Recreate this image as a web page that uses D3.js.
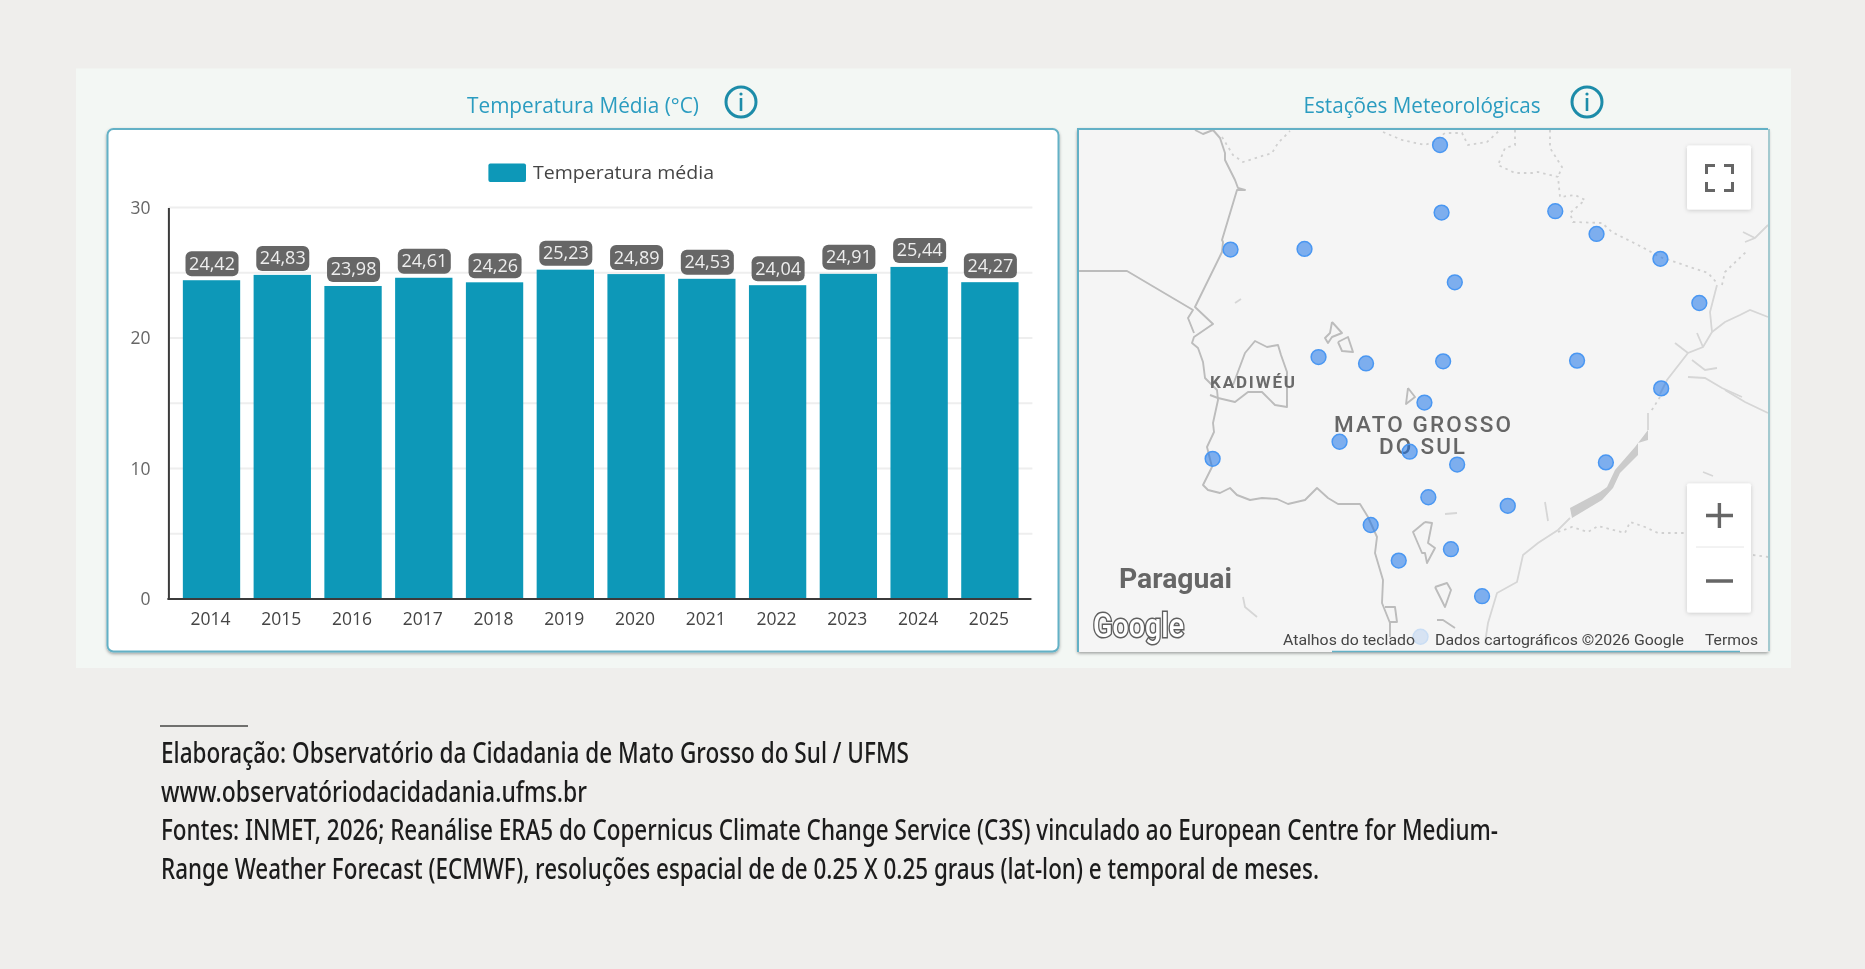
<!DOCTYPE html>
<html lang="pt-BR"><head><meta charset="utf-8">
<script src="https://cdn.jsdelivr.net/npm/d3@7"></script>
<style>html,body{margin:0;padding:0;background:#efeeec;overflow:hidden}svg{display:block}</style>
</head><body><svg id="c" width="1865" height="969"></svg>
<script>
// ---- data ----
const years = ["2014","2015","2016","2017","2018","2019","2020","2021","2022","2023","2024","2025"];
const temperatura = [24.42,24.83,23.98,24.61,24.26,25.23,24.89,24.53,24.04,24.91,25.44,24.27];
const yTicks = [0,10,20,30];
const yGrid = [0,5,10,15,20,25,30];
const legendLabel = "Temperatura média";
const stationLon = [-54.52,-54.50,-53.04,-52.51,-51.69,-51.19,-57.21,-56.26,-54.33,-56.08,-55.47,-54.48,-52.76,-51.68,-54.72,-55.81,-54.91,-54.30,-57.44,-52.39,-54.67,-53.65,-55.41,-54.38,-55.05,-53.98,-54.77];
const stationLat = [-17.19,-18.14,-18.12,-18.44,-18.79,-19.41,-18.66,-18.65,-19.12,-20.17,-20.26,-20.23,-20.22,-20.61,-20.81,-21.36,-21.50,-21.68,-21.60,-21.65,-22.14,-22.26,-22.53,-22.87,-23.03,-23.53,-24.10];
const footnotes = [
 "Elaboração: Observatório da Cidadania de Mato Grosso do Sul / UFMS",
 "www.observatóriodacidadania.ufms.br",
 "Fontes: INMET, 2026; Reanálise ERA5 do Copernicus Climate Change Service (C3S) vinculado ao European Centre for Medium-",
 "Range Weather Forecast (ECMWF), resoluções espacial de de 0.25 X 0.25 graus (lat-lon) e temporal de meses."];
// basemap outlines (traced, in map-card units)
const solidLines = [
 [[118,2],[126,6],[136,2],[143,10],[148,25],[148,32],[158,52],[161,60],[168,62],[160,62],[145,112],[146,114],[145,124],[118,179],[136,196],[117,209],[115,215],[121,220],[126,234],[128,250],[140,262],[141,272],[136,295],[137,304],[130,319],[135,339],[126,357],[131,362],[143,365],[153,360],[160,367],[173,372],[185,370],[200,371],[211,376],[228,372],[240,360],[251,370],[261,376],[283,376],[291,389],[300,409],[298,425],[306,452],[305,475],[313,495],[313,509]],
 [[1,143],[50,143],[116,182],[111,190],[117,205]],
 [[156,257],[168,225],[178,213],[190,219],[201,217],[204,227],[210,244],[210,279],[198,277],[185,264],[171,264],[158,274],[141,270],[133,267]],
 [[308,479],[318,479],[320,494],[313,494]],
 [[255,194],[265,205],[255,209],[251,215],[248,210],[253,205],[255,194]],
 [[261,214],[271,209],[276,224],[265,223],[261,214]],
 [[331,260],[338,269],[329,276],[331,260]],
 [[348,394],[355,395],[351,415],[358,420],[350,435],[348,425],[345,425],[336,404],[348,394]],
 [[358,459],[370,455],[374,462],[368,479],[363,469],[358,459]],
 [[360,492],[366,492],[378,500]]
];
const dottedLines = [
 [[145,9],[156,27],[166,34],[195,25],[201,15],[213,3]],
 [[306,4],[325,12],[348,17],[356,14],[368,5],[385,5],[391,17],[410,14],[423,2]],
 [[438,2],[438,17],[428,20],[421,37],[438,45],[455,45],[461,44],[481,49],[483,69],[498,67],[508,72],[493,85],[496,94],[525,95],[535,104],[565,119],[583,129],[631,145],[640,155]],
 [[473,2],[473,20],[485,39],[481,49]],
 [[645,157],[648,144],[671,122]],
 [[481,404],[495,399],[511,404],[521,398],[548,405],[553,394],[568,399],[581,405],[610,405]],
 [[676,427],[691,429]],
 [[583,269],[573,285]]
];
const riverLines = [
 [[640,157],[633,184],[635,204],[626,219],[611,225],[590,252],[583,266]],
 [[635,204],[648,194],[663,187],[673,182],[691,189]],
 [[691,97],[678,110],[668,114]],[[678,110],[666,104]],
 [[598,215],[611,225]],[[620,205],[626,219]],[[615,232],[628,242],[640,240]],
 [[611,249],[628,250],[645,260],[665,269]],[[648,262],[668,274],[691,285]],
 [[571,285],[571,302]],
 [[493,390],[481,402],[461,415],[446,427],[440,454],[420,465],[411,495],[408,515]],
 [[468,374],[471,393]],[[626,344],[636,348]],[[368,386],[380,385]],[[158,175],[164,171]],[[166,469],[168,479],[180,489]]
];
const reservoir = [[493,380],[523,364],[530,359],[538,342],[558,319],[571,302],[571,312],[561,315],[561,327],[543,345],[536,360],[525,372],[495,390]];

// ---- page ----
const root = d3.select("#c");
const defs = root.append("defs");
const soft = defs.append("filter").attr("id","soft").attr("filterUnits","userSpaceOnUse").attr("x",0).attr("y",0).attr("width",1865).attr("height",969);
soft.append("feGaussianBlur").attr("stdDeviation",.45);
const softer = defs.append("filter").attr("id","softer").attr("filterUnits","userSpaceOnUse").attr("x",1000).attr("y",100).attr("width",800).attr("height",600);
softer.append("feGaussianBlur").attr("stdDeviation",.6);
const sh = defs.append("filter").attr("id","sh").attr("x","-5%").attr("y","-5%").attr("width","110%").attr("height","110%");
sh.append("feDropShadow").attr("dx",0).attr("dy",1.5).attr("stdDeviation",1.5).attr("flood-color","#000").attr("flood-opacity",.35);
const bs = defs.append("filter").attr("id","bs").attr("x","-10%").attr("y","-10%").attr("width","120%").attr("height","120%");
bs.append("feDropShadow").attr("dx",0).attr("dy",1).attr("stdDeviation",2).attr("flood-color","#000").attr("flood-opacity",.18);
defs.append("clipPath").attr("id","mapclip").append("rect").attr("x",1077).attr("y",128).attr("width",692).attr("height",524).attr("rx",3);

const svg = root.append("g").attr("filter","url(#soft)");
const SANS = "'Open Sans','Noto Sans',sans-serif", ROB = "Roboto,sans-serif";
function txt(g,s,x,y,size,fill,opt={}){
  const t=g.append("text").attr("x",x).attr("y",y).attr("font-size",size).attr("fill",fill)
    .attr("font-family",opt.font||SANS).attr("font-weight",opt.weight||400).text(s);
  if(opt.anchor)t.attr("text-anchor",opt.anchor);
  if(opt.len)t.attr("textLength",opt.len).attr("lengthAdjust",opt.adjust||"spacingAndGlyphs");
  return t;
}
svg.append("rect").attr("width",1865).attr("height",969).attr("fill","#efeeec");
svg.append("rect").attr("x",76).attr("y",68.5).attr("width",1715).attr("height",599.5).attr("fill","#f3f7f4");

// titles + info icons
const TITLE="#2b9cc0", ICON="#1e8ca9";
txt(svg,"Temperatura Média (°C)",467,112.5,21.5,TITLE,{len:232,weight:500});
txt(svg,"Estações Meteorológicas",1303.5,112.5,21.5,TITLE,{len:237,weight:500});
[[741,102],[1587,102]].forEach(([x,y])=>{
  svg.append("circle").attr("cx",x).attr("cy",y).attr("r",15).attr("fill","none").attr("stroke",ICON).attr("stroke-width",3);
  svg.append("rect").attr("x",x-1.3).attr("y",y-4).attr("width",2.6).attr("height",13).attr("fill",ICON);
  svg.append("circle").attr("cx",x).attr("cy",y-8).attr("r",1.6).attr("fill",ICON);
});

// chart card
svg.append("rect").attr("x",107.5).attr("y",129).attr("width",951).attr("height",522.5).attr("rx",6)
  .attr("fill","#fff").attr("stroke","#63b1c6").attr("stroke-width",2).attr("filter","url(#sh)");

const x = d3.scaleBand().domain(years).range([168.7,1032.7]).paddingInner(.19).paddingOuter(.2);
const y = d3.scaleLinear().domain([0,30]).range([599,207.4]);
const BAR="#0898b8";

svg.append("g").selectAll("line").data(yGrid).join("line")
  .attr("x1",168.4).attr("x2",1032.4).attr("y1",d=>y(d)).attr("y2",d=>y(d))
  .attr("stroke","#eeeeee").attr("stroke-width",2);

svg.append("g").selectAll("rect").data(temperatura).join("rect")
  .attr("x",(d,i)=>x(years[i])).attr("width",x.bandwidth())
  .attr("y",d=>y(d)).attr("height",d=>y(0)-y(d)).attr("fill",BAR);

const ax = svg.append("g").attr("transform","translate(0,599)").call(d3.axisBottom(x).tickSize(0).tickPadding(13.5));
ax.select(".domain").attr("stroke","#3a3a3a").attr("stroke-width",2).attr("d","M167.4,0H1031.4");
ax.selectAll("text").attr("font-family",SANS).attr("font-size",17.5).attr("fill","#444").attr("dx",-1);
const ay = svg.append("g").attr("transform","translate(168.4,0)").call(d3.axisLeft(y).tickValues(yTicks).tickSize(0).tickPadding(18));
ay.select(".domain").attr("stroke","#3a3a3a").attr("stroke-width",2);
ay.selectAll("text").attr("font-family",SANS).attr("font-size",17.5).attr("fill","#666").attr("dy","0.33em");

// value labels
const fmt = d3.format(".2f");
const lab = svg.append("g").selectAll("g").data(temperatura).join("g")
  .attr("transform",(d,i)=>`translate(${x(years[i])+x.bandwidth()/2+.5},${y(d)-4})`);
lab.append("rect").attr("x",-26.5).attr("y",-25).attr("width",53).attr("height",25).attr("rx",6).attr("fill","#666");
lab.append("text").attr("text-anchor","middle").attr("y",-6.5).attr("font-size",18).attr("font-family",SANS).attr("font-weight",500)
  .attr("fill","#eee").text(d=>fmt(d).replace(".",","));

// legend
svg.append("rect").attr("x",488.4).attr("y",163.6).attr("width",37.6).attr("height",18.4).attr("rx",2).attr("fill",BAR);
txt(svg,legendLabel,533,179,18.5,"#444",{len:181,weight:500});

// map card
svg.append("rect").attr("x",1077).attr("y",128).attr("width",692).attr("height",524).attr("rx",3).attr("fill","#f5f5f5").attr("filter","url(#sh)");
const map = svg.append("g").attr("clip-path","url(#mapclip)");
const base = map.append("g").attr("filter","url(#softer)");
const gx = d3.scaleLinear().domain([0,692]).range([1077,1769]);
const gy = d3.scaleLinear().domain([0,524]).range([128,652]);
const ln = d3.line().x(d=>gx(d[0])).y(d=>gy(d[1]));
base.append("path").attr("d",ln(reservoir)+"Z").attr("fill","#cbcbcb");
base.selectAll(".r").data(riverLines).join("path").attr("class","r").attr("d",ln).attr("fill","none").attr("stroke","#d6d6d6").attr("stroke-width",1.8);
base.selectAll(".s").data(solidLines).join("path").attr("class","s").attr("d",ln).attr("fill","none").attr("stroke","#bcbcbc").attr("stroke-width",1.9).attr("stroke-linejoin","round");
base.selectAll(".d").data(dottedLines).join("path").attr("class","d").attr("d",ln).attr("fill","none").attr("stroke","#d0d0d0").attr("stroke-width",1.8).attr("stroke-dasharray","2.5 4");

// map labels
txt(map,"KADIWÉU",1210,388,17,"#6a6a6a",{font:ROB,weight:700,len:85,adjust:"spacing"});
txt(map,"MATO GROSSO",1334,431.5,22.5,"#666",{font:ROB,weight:500,len:177,adjust:"spacing"});
txt(map,"DO SUL",1379,453.5,22.5,"#666",{font:ROB,weight:500,len:86,adjust:"spacing"});
txt(map,"Paraguai",1119,588,27,"#666",{font:ROB,weight:700,len:113});

// stations
const lonS = d3.scaleLinear().domain([-59.4,-50]).range([1060,1792]);
const latS = d3.scaleLinear().domain([-16,-25]).range([60,700.5]);
map.append("g").selectAll("circle").data(stationLon).join("circle")
  .attr("cx",d=>lonS(d)).attr("cy",(d,i)=>latS(stationLat[i])+.3).attr("r",7.4)
  .attr("fill","#1a73e8").attr("fill-opacity",.55).attr("stroke","#4a97f2").attr("stroke-width",1.5)
  .attr("opacity",(d,i)=>i===stationLon.length-1?.25:1);

// attribution
txt(map,"Google",1093,637,33,"#fff",{font:ROB,weight:500,len:91}).attr("stroke","#5f5f5f").attr("stroke-width",3).attr("paint-order","stroke");
txt(map,"Atalhos do teclado",1283,645,14.5,"#444",{font:ROB,len:132});
txt(map,"Dados cartográficos ©2026 Google",1435,645,14.5,"#444",{font:ROB,len:249});
txt(map,"Termos",1705,645,14.5,"#444",{font:ROB,len:53});

// map controls
svg.append("rect").attr("x",1687).attr("y",145.5).attr("width",64).attr("height",64).attr("rx",2).attr("fill","#fff").attr("filter","url(#bs)");
svg.append("path").attr("fill","none").attr("stroke","#666").attr("stroke-width",3)
 .attr("d","M1706.5,174V165.5H1715M1724,165.5H1732.5V174M1732.5,182V190.5H1724M1715,190.5H1706.5V182");
svg.append("rect").attr("x",1687).attr("y",483.5).attr("width",64).attr("height",129).attr("rx",2).attr("fill","#fff").attr("filter","url(#bs)");
svg.append("line").attr("x1",1696).attr("x2",1744).attr("y1",547).attr("y2",547).attr("stroke","#e6e6e6").attr("stroke-width",1);
svg.append("path").attr("fill","none").attr("stroke","#666").attr("stroke-width",3.4)
 .attr("d","M1706,515.5H1733M1719.4,503V528M1706,581H1733");

// map card edges
svg.append("path").attr("fill","none").attr("stroke","#63b1c6").attr("stroke-width",2)
 .attr("d","M1078,652V129H1768");
svg.append("path").attr("fill","none").attr("stroke","#a3c9cf").attr("stroke-width",2).attr("d","M1769,129V651");
svg.append("line").attr("x1",1332).attr("x2",1740).attr("y1",651.5).attr("y2",651.5).attr("stroke","#63b1c6").attr("stroke-width",1.5);

// footnotes
svg.append("line").attr("x1",160).attr("x2",248).attr("y1",726).attr("y2",726).attr("stroke","#444").attr("stroke-width",1.5);
const fLen=[748,426,1337,1158], fY=[763,801.7,840.3,879];
footnotes.forEach((s,i)=>txt(svg,s,161,fY[i],29,"#1c1c1c",{font:"'Noto Sans',sans-serif",weight:500,len:fLen[i]}));
</script></body></html>
